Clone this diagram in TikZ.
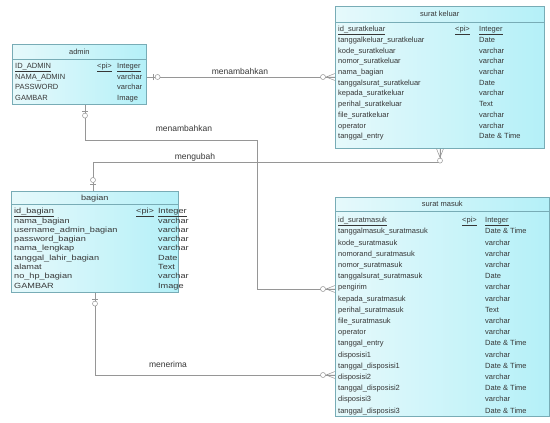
\documentclass[tikz,border=0pt]{standalone}
\usepackage{fontspec}
\setmainfont{Liberation Sans}
\newfontfamily\widefont[FakeStretch=1.22]{Liberation Sans}
\usetikzlibrary{calc}
\definecolor{boxL}{RGB}{230,249,251}
\definecolor{boxR}{RGB}{180,240,248}
\definecolor{boxB}{RGB}{120,172,182}
\definecolor{txt}{RGB}{55,55,55}
\definecolor{lnk}{RGB}{150,150,150}
\newcommand{\cellfont}{\fontsize{7.5}{8}\selectfont}
\tikzset{
  tbl/.style={draw=boxB, line width=0.6pt, left color=boxL, right color=boxR, inner sep=0pt, anchor=north west},
  cell/.style={anchor=base west, inner sep=0pt, font=\cellfont, text=txt},
  ttl/.style={anchor=base, inner sep=0pt, font=\cellfont, text=txt},
  rel/.style={draw=lnk, line width=0.5pt},
  rlabel/.style={font=\fontsize{8.5}{9}\selectfont, text=txt, inner sep=0pt},
  many/.pic={\draw[rel] (-9,0) -- (0,-3.5) (-9,0) -- (0,3.5) (-9,0) -- (0,0);
             \draw[rel,fill=white] (-12,0) circle (2.5);},
  one/.pic={\draw[rel] (-7,-3) -- (-7,3);
            \draw[rel,fill=white] (-11,0) circle (2.5);}
}
\newcommand{\ertable}[5]{%
  \draw[boxB,line width=0.6pt] ($(#1.north west)+(0,\sepy)$) -- ($(#1.north east)+(0,\sepy)$);
  \node[ttl] (#1-title) at ($(#1.north)+(0,\tty)$) {#2};
  \node[cell] (#1-id) at ($(#1.north west)+(3,\rtop)$) {\underline{#3}};
  \node[cell] (#1-pi) at ($(#1.north west)+(\pix,\rtop)$) {\underline{<pi>}};
  \node[cell] (#1-idt) at ($(#1.north west)+(\tyx,\rtop)$) {\underline{#4}};
  \foreach \nm/\ty [count=\i] in {#5} {
    \node[cell] (#1-n\i) at ($(#1.north west)+(3,\rtop+\rsep*\i)$) {\nm};
    \node[cell] (#1-t\i) at ($(#1.north west)+(\tyx,\rtop+\rsep*\i)$) {\ty};
  }%
}
\begin{document}
\begin{tikzpicture}[x=1pt,y=-1pt]
\fill[white] (0,0) rectangle (550,423);
\useasboundingbox (0,0) rectangle (550,423);

% ---- tables ----
\node[tbl, minimum width=134pt, minimum height=60pt] (admin) at (12,44) {};
\def\sepy{15}\def\tty{10.5}\def\rtop{24.5}\def\rsep{10.5}\def\pix{85}\def\tyx{105}
\ertable{admin}{admin}{ID\_ADMIN}{Integer}{NAMA\_ADMIN/varchar, PASSWORD/varchar, GAMBAR/Image}

\node[tbl, minimum width=209pt, minimum height=142pt] (sk) at (335,6) {};
\def\sepy{16}\def\tty{10.7}\def\rtop{25.7}\def\rsep{10.7}\def\pix{120}\def\tyx{144}
\ertable{sk}{surat keluar}{id\_suratkeluar}{Integer}{tanggalkeluar\_suratkeluar/Date, kode\_suratkeluar/varchar, nomor\_suratkeluar/varchar, nama\_bagian/varchar, tanggalsurat\_suratkeluar/Date, kepada\_suratkeluar/varchar, perihal\_suratkeluar/Text, file\_suratkeluar/varchar, operator/varchar, tanggal\_entry/Date \& Time}

\node[tbl, minimum width=167pt, minimum height=101pt] (bagian) at (11,191) {};
\renewcommand{\cellfont}{\widefont\fontsize{7.5}{8}\selectfont}
\def\sepy{13}\def\tty{9.5}\def\rtop{22.7}\def\rsep{9.3}\def\pix{125}\def\tyx{147}
\ertable{bagian}{bagian}{id\_bagian}{Integer}{nama\_bagian/varchar, username\_admin\_bagian/varchar, password\_bagian/varchar, nama\_lengkap/varchar, tanggal\_lahir\_bagian/Date, alamat/Text, no\_hp\_bagian/varchar, GAMBAR/Image}
\renewcommand{\cellfont}{\fontsize{7.5}{8}\selectfont}

\node[tbl, minimum width=214pt, minimum height=219pt] (sm) at (335,197) {};
\def\sepy{14}\def\tty{9.7}\def\rtop{25.7}\def\rsep{11.2}\def\pix{127}\def\tyx{150}
\ertable{sm}{surat masuk}{id\_suratmasuk}{Integer}{tanggalmasuk\_suratmasuk/Date \& Time, kode\_suratmasuk/varchar, nomorand\_suratmasuk/varchar, nomor\_suratmasuk/varchar, tanggalsurat\_suratmasuk/Date, pengirim/varchar, kepada\_suratmasuk/varchar, perihal\_suratmasuk/Text, file\_suratmasuk/varchar, operator/varchar, tanggal\_entry/Date \& Time, disposisi1/varchar, tanggal\_disposisi1/Date \& Time, disposisi2/varchar, tanggal\_disposisi2/Date \& Time, disposisi3/varchar, tanggal\_disposisi3/Date \& Time}

% ---- connector end points ----
\coordinate (a1) at ($(admin.north east)+(0,33)$);
\coordinate (k1) at (sk.west |- a1);
\coordinate (a2) at ($(admin.south west)+(73,0)$);
\coordinate (j2) at (257,140);
\coordinate (m2) at ($(sm.north west)+(0,92)$);
\coordinate (a3) at ($(bagian.north west)+(82,0)$);
\coordinate (k3) at ($(sk.south west)+(105,0)$);
\coordinate (j3) at ($(k3)+(0,14)$);
\coordinate (a4) at ($(bagian.south west)+(84,0)$);
\coordinate (m4) at ($(sm.north west)+(0,178)$);

% ---- connectors ----
\draw[rel] (a1) -- (k1);
\draw[rel] (a2) |- (j2) |- (m2);
\draw[rel] (a3) |- (j3) -- (k3);
\draw[rel] (a4) |- (m4);

\pic[rotate=180] at (a1) {one};
\pic at (k1) {many};
\pic[rotate=90] at (a2) {one};
\pic at (m2) {many};
\pic[rotate=-90] at (a3) {one};
\pic[rotate=90] at (k3) {many};
\pic[rotate=90] at (a4) {one};
\pic at (m4) {many};

% ---- labels ----
\node[rlabel] (l1) at (240,71) {menambahkan};
\node[rlabel] (l2) at (184,128) {menambahkan};
\node[rlabel] (l3) at (195,157) {mengubah};
\node[rlabel] (l4) at (168,364) {menerima};
\end{tikzpicture}
\end{document}
